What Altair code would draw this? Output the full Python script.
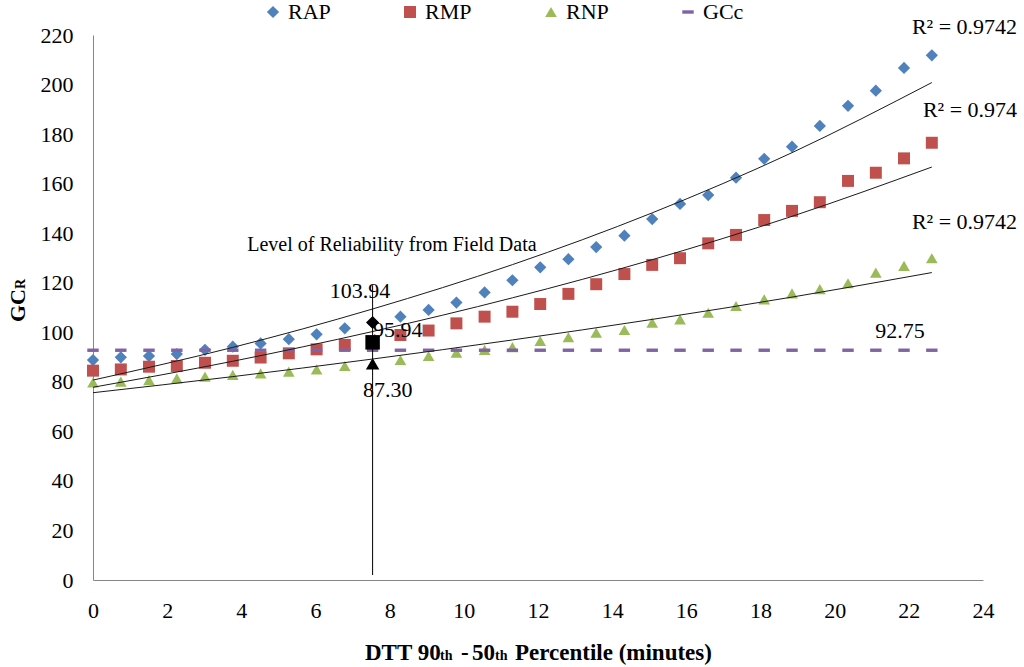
import altair as alt
import pandas as pd

# ---------------- data ----------------
x_vals = [0, 0.75, 1.51, 2.26, 3.02, 3.77, 4.52, 5.28, 6.03, 6.79, 7.54,
          8.29, 9.05, 9.80, 10.56, 11.31, 12.06, 12.82, 13.57, 14.33, 15.08,
          15.83, 16.59, 17.34, 18.10, 18.85, 19.60, 20.36, 21.11, 21.87, 22.62]

rap = [88.8, 89.9, 90.4, 91.2, 92.9, 94.2, 95.5, 97.2, 99.2, 101.6, 103.94,
       106.3, 109.0, 112.0, 116.1, 121.0, 126.2, 129.5, 134.4, 139.0, 145.7,
       151.8, 155.4, 162.4, 170.0, 174.9, 183.3, 191.4, 197.5, 206.7, 211.8]

rmp = [84.5, 85.0, 86.1, 86.4, 87.7, 88.5, 89.8, 91.5, 93.1, 94.9, 95.94,
       98.9, 100.7, 103.6, 106.3, 108.3, 111.4, 115.5, 119.4, 123.5, 127.2,
       129.9, 135.9, 139.3, 145.3, 149.0, 152.5, 161.1, 164.4, 170.2, 176.5]

rnp = [79.7, 80.1, 80.7, 81.4, 82.1, 82.8, 83.4, 84.1, 85.0, 86.4, 87.30,
       88.8, 90.4, 91.8, 92.9, 94.0, 96.5, 98.0, 99.8, 100.9, 103.9,
       105.2, 107.9, 110.6, 113.3, 115.7, 117.4, 119.8, 124.1, 126.8, 129.9]

gcc = [92.75] * len(x_vals)

# trend lines (read at a few x positions)
trend_x = [0, 3.77, 7.54, 11.31, 15.08, 18.85, 22.62]
rap_trend = [80.7, 93.9, 109.4, 127.3, 148.2, 172.5, 200.8]
rmp_trend = [77.8, 88.3, 100.3, 113.9, 129.3, 146.8, 166.7]
rnp_trend = [75.6, 82.1, 89.2, 96.9, 105.2, 114.2, 124.1]

# field data (level of reliability)
field_x = 7.54
field_series = ["RAP", "RMP", "RNP"]
field_vals = [103.94, 95.94, 87.30]
rule_y = [2, 119]

series_names = ["RAP", "RMP", "RNP", "GCc"]
series_colors = ["#4F81BD", "#C0504D", "#9BBB59", "#8064A2"]
dash_path = "M-1,-0.3L1,-0.3L1,0.3L-1,0.3Z"
series_shapes = ["diamond", "square", "triangle-up", dash_path]
series_sizes = [150, 130, 145, 100]

x_ticks = [0, 2, 4, 6, 8, 10, 12, 14, 16, 18, 20, 22, 24]
y_ticks = [0, 20, 40, 60, 80, 100, 120, 140, 160, 180, 200, 220]

# annotations: text, x, y
ann_text = ["103.94", "95.94", "87.30", "92.75"]
ann_x = [7.20, 8.22, 7.95, 21.76]
ann_y = [116.7, 100.9, 76.7, 100.5]

r2_text = ["R² = 0.9742", "R² = 0.974", "R² = 0.9742"]
r2_x = [24.92, 24.92, 24.92]
r2_y = [223.4, 189.8, 144.5]

level_text = "Level of Reliability  from Field Data"
level_x = 8.06
level_y = 135.2

FONT = "Liberation Serif"

# ---------------- tables ----------------
rows = []
for name, vals in zip(series_names, [rap, rmp, rnp, gcc]):
    for xv, yv in zip(x_vals, vals):
        rows.append({"series": name, "x": xv, "y": yv})
df_pts = pd.DataFrame(rows)

trows = []
for name, vals in zip(["RAP", "RMP", "RNP"], [rap_trend, rmp_trend, rnp_trend]):
    for xv, yv in zip(trend_x, vals):
        trows.append({"series": name, "x": xv, "y": yv})
df_trend = pd.DataFrame(trows)

df_field = pd.DataFrame({"series": field_series, "x": [field_x] * 3, "y": field_vals})
df_rule = pd.DataFrame({"x": [field_x], "y": [rule_y[0]], "y2": [rule_y[1]]})
df_ann = pd.DataFrame({"text": ann_text, "x": ann_x, "y": ann_y})
df_r2 = pd.DataFrame({"text": r2_text, "x": r2_x, "y": r2_y})
df_level = pd.DataFrame({"text": [level_text], "x": [level_x], "y": [level_y]})

xs = alt.Scale(domain=[0, 24], nice=False, zero=False)
ys = alt.Scale(domain=[0, 220], nice=False, zero=False)

x_axis = alt.Axis(values=x_ticks, title=None, grid=False, ticks=False, tickSize=0,
                  labelPadding=20, labelFont=FONT, labelFontSize=22, labelColor="black",
                  labelFlush=False, domainColor="#868686", labelOverlap=False)
y_axis = alt.Axis(values=y_ticks, title=None, grid=False, ticks=False, tickSize=0,
                  labelPadding=20, labelFont=FONT, labelFontSize=22, labelColor="black",
                  labelFlush=False, domainColor="#868686", labelOverlap=False)

X = alt.X("x:Q", scale=xs, axis=x_axis)
Y = alt.Y("y:Q", scale=ys, axis=y_axis)

leg = alt.Legend(title=None, orient="none", direction="horizontal", legendX=169, legendY=-34,
                 labelFont=FONT, labelFontSize=22, labelColor="black", symbolSize=80,
                 columnPadding=68, labelOffset=4, padding=0, symbolStrokeWidth=0)

points = alt.Chart(df_pts).mark_point(filled=True, opacity=1).encode(
    x=X, y=Y,
    color=alt.Color("series:N", scale=alt.Scale(domain=series_names, range=series_colors), legend=leg),
    shape=alt.Shape("series:N", scale=alt.Scale(domain=series_names, range=series_shapes), legend=leg),
    size=alt.Size("series:N", scale=alt.Scale(domain=series_names, range=series_sizes), legend=None),
)

trend = alt.Chart(df_trend).mark_line(color="#1a1a1a", strokeWidth=1, interpolate="monotone").encode(
    x=alt.X("x:Q", scale=xs), y=alt.Y("y:Q", scale=ys), detail="series:N"
)

rule = alt.Chart(df_rule).mark_rule(color="black", strokeWidth=1).encode(
    x=alt.X("x:Q", scale=xs), y=alt.Y("y:Q", scale=ys), y2="y2:Q"
)

f_rap = alt.Chart(df_field).transform_filter(alt.datum.series == "RAP").mark_point(
    shape="diamond", size=170, filled=True, color="black", opacity=1).encode(
    x=alt.X("x:Q", scale=xs), y=alt.Y("y:Q", scale=ys))
f_rmp = alt.Chart(df_field).transform_filter(alt.datum.series == "RMP").mark_point(
    shape="square", size=210, filled=True, color="black", opacity=1).encode(
    x=alt.X("x:Q", scale=xs), y=alt.Y("y:Q", scale=ys))
f_rnp = alt.Chart(df_field).transform_filter(alt.datum.series == "RNP").mark_point(
    shape="triangle-up", size=180, filled=True, color="black", opacity=1).encode(
    x=alt.X("x:Q", scale=xs), y=alt.Y("y:Q", scale=ys))

ann = alt.Chart(df_ann).mark_text(font=FONT, fontSize=22, color="black", baseline="middle",
                                  align="center").encode(
    x=alt.X("x:Q", scale=xs), y=alt.Y("y:Q", scale=ys), text="text:N")

r2 = alt.Chart(df_r2).mark_text(font=FONT, fontSize=22, color="black", baseline="middle",
                                align="right").encode(
    x=alt.X("x:Q", scale=xs), y=alt.Y("y:Q", scale=ys), text="text:N")

level = alt.Chart(df_level).mark_text(font=FONT, fontSize=20, color="black", baseline="middle",
                                      align="center").encode(
    x=alt.X("x:Q", scale=xs), y=alt.Y("y:Q", scale=ys), text="text:N")

# axis titles with subscripts
xt_text = ["DTT 90", "th", "-", "50", "th", "Percentile (minutes)"]
xt_size = [23, 14, 23, 23, 14, 23]
xt_pos = [272, 347, 368, 379, 402, 422]
xtitle_layers = []
for t, s, p in zip(xt_text, xt_size, xt_pos):
    xtitle_layers.append(
        alt.Chart(pd.DataFrame({"t": [t]})).mark_text(
            font=FONT, fontSize=s, fontWeight="bold", color="black", align="left",
            baseline="alphabetic").encode(x=alt.value(p), y=alt.value(625), text="t:N"))

yt_text = ["GC", "R"]
yt_size = [22, 14]
yt_pos = [287, 254]
ytitle_layers = []
for t, s, p in zip(yt_text, yt_size, yt_pos):
    ytitle_layers.append(
        alt.Chart(pd.DataFrame({"t": [t]})).mark_text(
            font=FONT, fontSize=s, fontWeight="bold", color="black", align="left",
            baseline="alphabetic", angle=270).encode(x=alt.value(-68), y=alt.value(p), text="t:N"))

chart = alt.layer(
    points, trend, rule, f_rap, f_rmp, f_rnp, ann, r2, level, *xtitle_layers, *ytitle_layers
).properties(
    width=890, height=545,
    padding={"left": 93, "top": 35, "right": 41, "bottom": 87},
    autosize=alt.AutoSizeParams(type="none"),
    background="white",
).configure_view(stroke=None)

chart.save("out.html", embed_options={"renderer": "svg", "actions": False})
